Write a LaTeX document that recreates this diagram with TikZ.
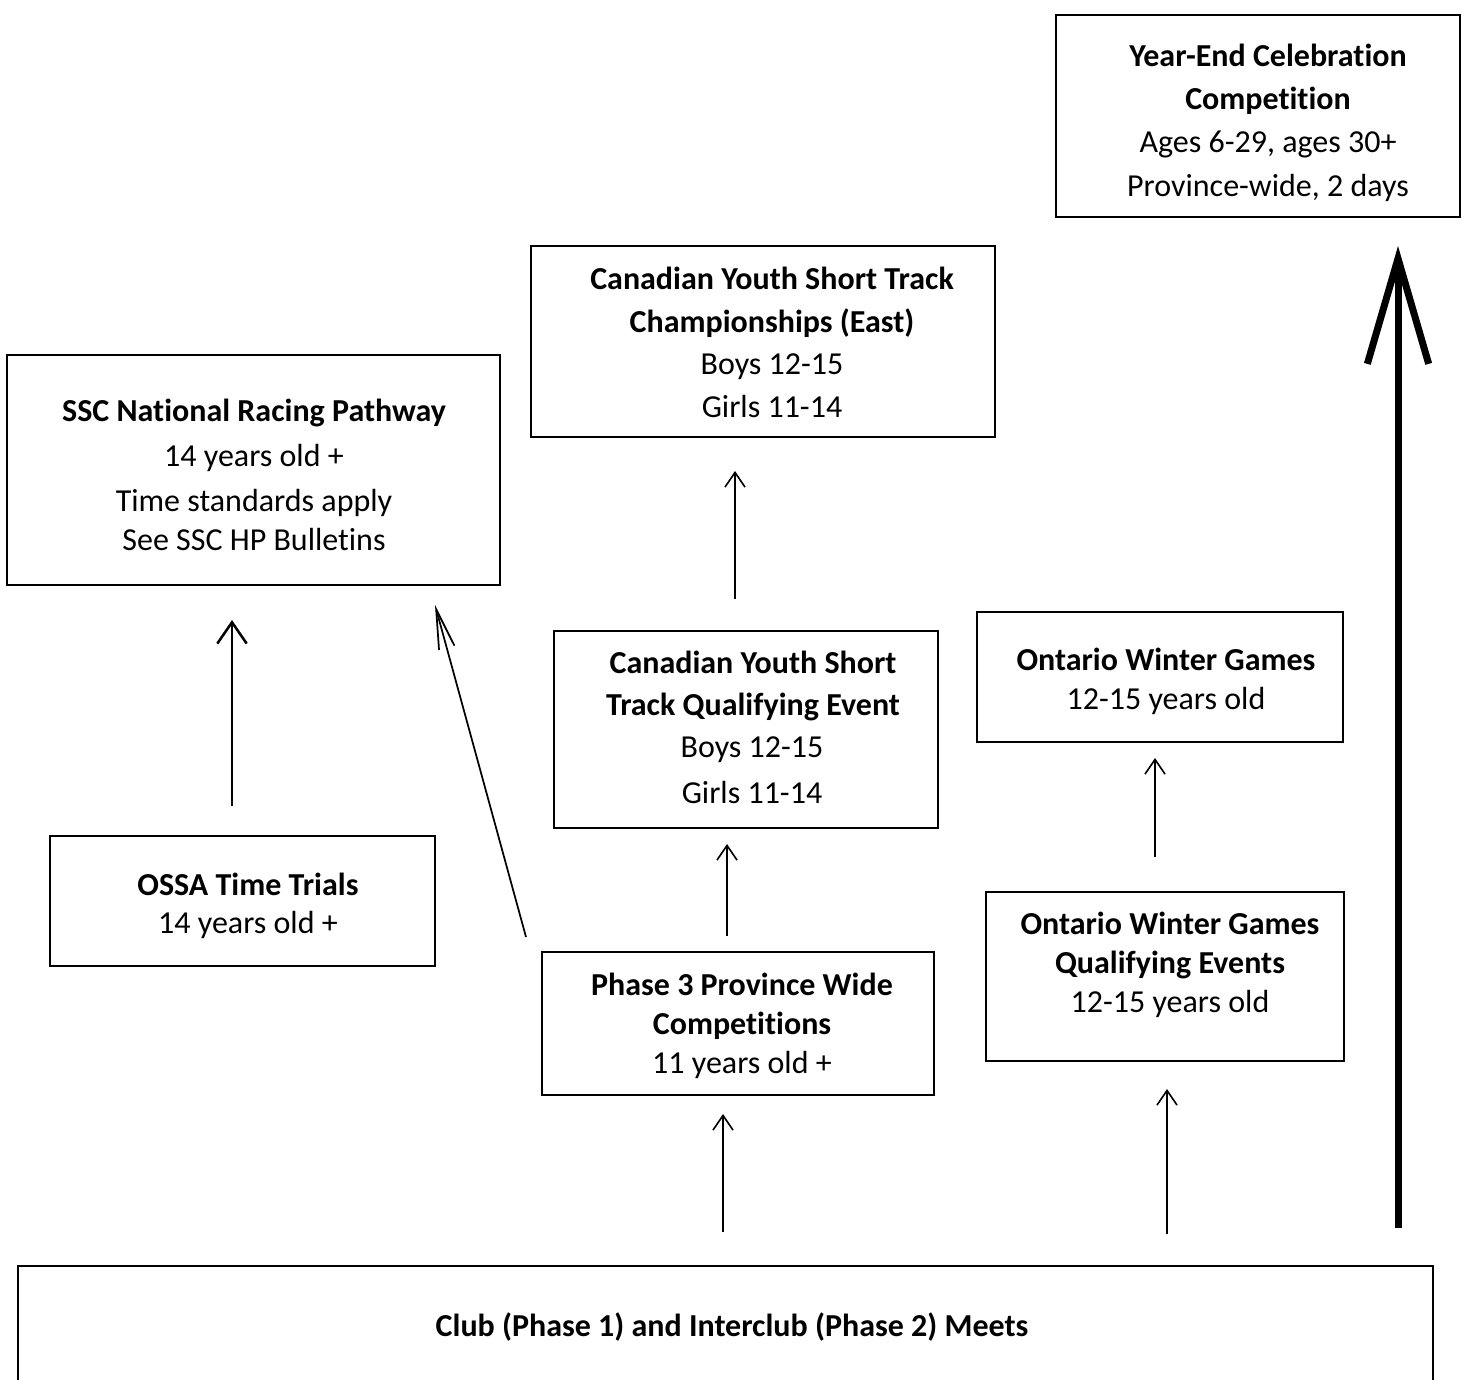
\documentclass[tikz,border=0pt]{standalone}
\usepackage{fontspec}
\setmainfont{Carlito}[RawFeature={-liga;-clig;-dlig;-calt}]
\usetikzlibrary{arrows.meta}
\begin{document}
\begin{tikzpicture}[x=0.75pt,y=-0.75pt,
  box/.style={draw, line width=1.5pt, rectangle, inner sep=0pt},
  ln/.style={anchor=base, inner sep=0pt, font=\fontsize{24pt}{29pt}\selectfont},
  bl/.style={anchor=base, inner sep=0pt, font=\fontsize{24pt}{29pt}\selectfont\bfseries},
  thinarr/.style={line width=1.2pt, -{Straight Barb[length=11pt,width=15pt]}},
  midarr/.style={line width=1.9pt, -{Straight Barb[length=16pt,width=22pt]}},
  diagarr/.style={line width=1.3pt, -{Straight Barb[length=30pt,width=12pt]}},
  bigarr/.style={line width=5.25pt, -{Straight Barb[length=79pt,width=46pt]}}]
\useasboundingbox (0,0) rectangle (1466,1380);
\clip (0,0) rectangle (1466,1380);

% boxes
\node[box, minimum width=303pt, minimum height=151.5pt] (yec) at (1258,116) {};
\node[box, minimum width=348pt, minimum height=143.25pt] (cysc) at (763,341.5) {};
\node[box, minimum width=369.75pt, minimum height=172.5pt] (ssc) at (253.5,470) {};
\node[box, minimum width=288pt, minimum height=147.75pt] (cystq) at (746,729.5) {};
\node[box, minimum width=274.5pt, minimum height=97.5pt] (owg) at (1160,677) {};
\node[box, minimum width=288.75pt, minimum height=97.5pt] (ossa) at (242.5,901) {};
\node[box, minimum width=294pt, minimum height=107.25pt] (p3) at (738,1023.5) {};
\node[box, minimum width=268.5pt, minimum height=126.75pt] (owgq) at (1165,976.5) {};
\node[box, minimum width=1061.25pt, minimum height=93pt] (club) at (725.5,1328) {};

% texts
\node[bl] (yec1) at (1268,67) {Year-End Celebrat\kern0pt ion};
\node[bl] (yec2) at (1268,110) {Compet\kern0pt it\kern0pt ion};
\node[ln] (yec3) at (1268,153) {Ages 6-29, ages 30+};
\node[ln] (yec4) at (1268,197) {Province-wide, 2 days};

\node[bl] (cysc1) at (772,289) {Canadian Youth Short Track};
\node[bl] (cysc2) at (772,332) {Championships (East)};
\node[ln] (cysc3) at (772,374) {Boys 12-15};
\node[ln] (cysc4) at (772,417) {Girls 11-14};

\node[bl] (ssc1) at (254,421) {SSC Nat\kern0pt ional Racing Pathway};
\node[ln] (ssc2) at (254,466) {14 years old +};
\node[ln] (ssc3) at (254,511) {Time standards apply};
\node[ln] (ssc4) at (254,550) {See SSC HP Bullet\kern0pt ins};

\node[bl] (cystq1) at (753,673) {Canadian Youth Short};
\node[bl] (cystq2) at (753,715) {Track Qualifying Event};
\node[ln] (cystq3) at (752,757) {Boys 12-15};
\node[ln] (cystq4) at (752,803) {Girls 11-14};

\node[bl] (owg1) at (1166,670) {Ontario Winter Games};
\node[ln] (owg2) at (1166,709) {12-15 years old};

\node[bl] (ossa1) at (248,895) {OSSA Time Trials};
\node[ln] (ossa2) at (248,933) {14 years old +};

\node[bl] (p31) at (742,995) {Phase 3 Province Wide};
\node[bl] (p32) at (742,1034) {Compet\kern0pt it\kern0pt ions};
\node[ln] (p33) at (742,1073) {11 years old +};

\node[bl] (owgq1) at (1170,934) {Ontario Winter Games};
\node[bl] (owgq2) at (1170,973) {Qualifying Events};
\node[ln] (owgq3) at (1170,1012) {12-15 years old};

\node[bl] (club1) at (732,1336) {Club (Phase 1) and Interclub (Phase 2) Meets};

% connectors
\draw[bigarr] ([shift={(672.5,-37)}]club.north) -- ([shift={(140,28)}]yec.south);
\draw[thinarr] ([shift={(-2.5,-33)}]club.north) -- ([shift={(-15,18)}]p3.south);
\draw[thinarr] ([shift={(441.5,-31)}]club.north) -- ([shift={(2,27)}]owgq.south);
\draw[thinarr] ([shift={(-10,-34)}]owgq.north) -- ([shift={(-5,15)}]owg.south);
\draw[thinarr] ([shift={(-11,-15)}]p3.north) -- ([shift={(-19,15)}]cystq.south);
\draw[thinarr] ([shift={(-11,-31)}]cystq.north) -- ([shift={(-28,33)}]cysc.south);
\draw[midarr] ([shift={(-10.5,-29)}]ossa.north) -- ([shift={(-21.5,34)}]ssc.south);
\draw[diagarr] ([shift={(-15,-14)}]p3.north west) -- ([shift={(-66,19)}]ssc.south east);
\end{tikzpicture}
\end{document}
